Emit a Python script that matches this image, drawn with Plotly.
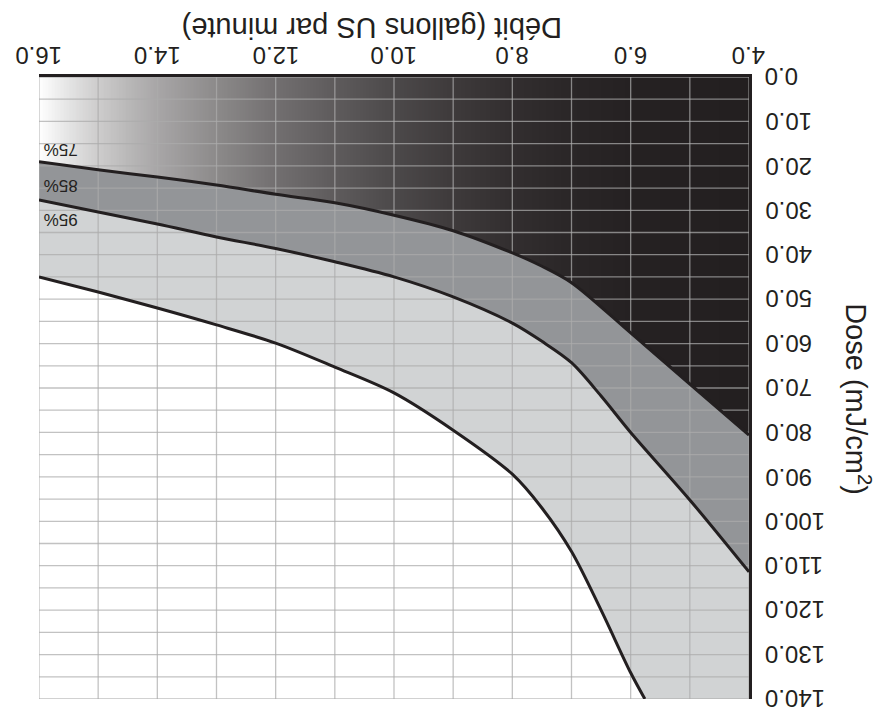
import numpy as np
import plotly.graph_objects as go

# ---- data ----
flow_75 = [16, 15, 14, 13, 12, 11, 10, 9, 8, 7.5, 7, 6, 5, 4]
dose_75 = [19.1, 20.9, 22.5, 24.3, 26.4, 28.3, 31.1, 34.6, 39.6, 42.6, 46.3, 57.6, 69.1, 80.6]

flow_85 = [16, 15, 14, 13, 12, 11, 10, 9, 8, 7.5, 7, 6.5, 6, 5, 4]
dose_85 = [27.7, 30.4, 33.1, 36.0, 38.6, 41.6, 45.0, 49.5, 55.4, 59.5, 64.3, 71.8, 80.0, 95.2, 111.4]

flow_95 = [16, 15, 14, 13, 12, 11, 10, 9, 8, 7.5, 7, 6.5, 6, 5.76]
dose_95 = [45.0, 48.4, 52.0, 55.8, 59.9, 65.3, 71.1, 79.5, 89.4, 97.0, 106.8, 120.0, 134.1, 140.0]

band_labels = ["75%", "85%", "95%"]
label_flow = [15.63, 15.63, 15.63]
label_dose = [16.2, 24.3, 32.2]

x_ticks = [4.0, 6.0, 8.0, 10.0, 12.0, 14.0, 16.0]
y_ticks = [0, 10, 20, 30, 40, 50, 60, 70, 80, 90, 100, 110, 120, 130, 140]

x_title = "Débit (gallons US par minute)"
y_title = "Dose (mJ/cm<sup>2</sup>)"

# ---- styles ----
INK = "#231f20"
DARK_BAND = "#939598"
LIGHT_BAND = "#d1d3d4"
GRID = "rgba(172,172,172,0.73)"
FONT = "Liberation Sans, Arial, sans-serif"
X_MIN, X_MAX, Y_MIN, Y_MAX = 4, 16, 0, 140

# gradient (white at high flow -> near black at low flow)
grad_flow = [4, 6, 7, 8, 9, 10, 11, 12, 13, 14, 14.5, 15, 15.5, 16]
grad_gray = [35, 37, 42, 50, 62, 76, 94, 114, 140, 168, 185, 205, 228, 255]
cs = []
for f, g in zip(grad_flow, grad_gray):
    t = (g - 35) / (255 - 35)
    r = int(round(35 + t * 220)); gg = int(round(31 + t * 224)); b = int(round(32 + t * 223))
    cs.append([(f - X_MIN) / (X_MAX - X_MIN), f"rgb({r},{gg},{b})"])

edges = np.linspace(X_MIN, X_MAX, 481)
centers = (edges[:-1] + edges[1:]) / 2

fig = go.Figure()
fig.add_trace(go.Heatmap(x=edges, y=[Y_MIN, Y_MAX], z=[centers], colorscale=cs,
                         zmin=X_MIN, zmax=X_MAX, showscale=False, hoverinfo="skip"))

def band(fx, dy, color):
    fig.add_trace(go.Scatter(x=[X_MAX, X_MIN], y=[Y_MAX, Y_MAX], mode="lines",
                             line=dict(width=0), showlegend=False, hoverinfo="skip"))
    fig.add_trace(go.Scatter(x=fx, y=dy, mode="lines", fill="tonexty", fillcolor=color,
                             line=dict(width=0, shape="spline", smoothing=0.9),
                             showlegend=False, hoverinfo="skip"))

band(flow_75, dose_75, DARK_BAND)
band(flow_85, dose_85, LIGHT_BAND)
band(flow_95, dose_95, "white")

# grid lines (drawn above the fills)
gx, gy = [], []
for v in np.arange(X_MIN, X_MAX + 0.01, 1):
    gx += [v, v, None]; gy += [Y_MIN, Y_MAX, None]
for d in np.arange(Y_MIN, Y_MAX + 0.01, 5):
    gx += [X_MIN, X_MAX, None]; gy += [d, d, None]
fig.add_trace(go.Scatter(x=gx, y=gy, mode="lines", line=dict(color=GRID, width=1.3),
                         showlegend=False, hoverinfo="skip", cliponaxis=False))

for fx, dy in [(flow_75, dose_75), (flow_85, dose_85), (flow_95, dose_95)]:
    fig.add_trace(go.Scatter(x=fx, y=dy, mode="lines",
                             line=dict(color=INK, width=3, shape="spline", smoothing=0.9),
                             showlegend=False, hoverinfo="skip"))

for t, fx, dy in zip(band_labels, label_flow, label_dose):
    fig.add_annotation(x=fx, y=dy, text=t, showarrow=False, textangle=180,
                       xanchor="center", yanchor="middle",
                       font=dict(family=FONT, size=17, color=INK))

# tick labels (upside-down, as in the reference)
for v in x_ticks:
    fig.add_annotation(x=v, xref="x", y=1, yref="paper", text=f"{v:.1f}", showarrow=False,
                       textangle=180, xanchor="center", yanchor="bottom", yshift=6,
                       font=dict(family=FONT, size=24, color=INK))
for v in y_ticks:
    fig.add_annotation(x=1, xref="paper", y=v, yref="y", text=f"{v:.1f}", showarrow=False,
                       textangle=180, xanchor="left", yanchor="middle", xshift=14,
                       font=dict(family=FONT, size=24, color=INK))

fig.add_annotation(xref="paper", yref="paper", x=0.469, y=1.079, text=x_title,
                   showarrow=False, textangle=180, xanchor="center", yanchor="middle",
                   font=dict(family=FONT, size=29, color=INK))
fig.add_annotation(xref="paper", yref="paper", x=1.1536, y=0.482, text=y_title,
                   showarrow=False, textangle=90, xanchor="center", yanchor="middle",
                   font=dict(family=FONT, size=29, color=INK))

fig.update_xaxes(range=[X_MAX, X_MIN], side="top", showgrid=False, zeroline=False,
                 showticklabels=False, automargin=False,
                 showline=True, linewidth=3, linecolor=INK, ticks="")
fig.update_yaxes(range=[Y_MAX, Y_MIN], side="right", showgrid=False, zeroline=False,
                 showticklabels=False, automargin=False,
                 showline=True, linewidth=3, linecolor=INK, ticks="")

fig.update_layout(width=896, height=717, margin=dict(l=31, r=155, t=69, b=26),
                  plot_bgcolor="white", paper_bgcolor="white", showlegend=False)

fig.write_html("out.html")
